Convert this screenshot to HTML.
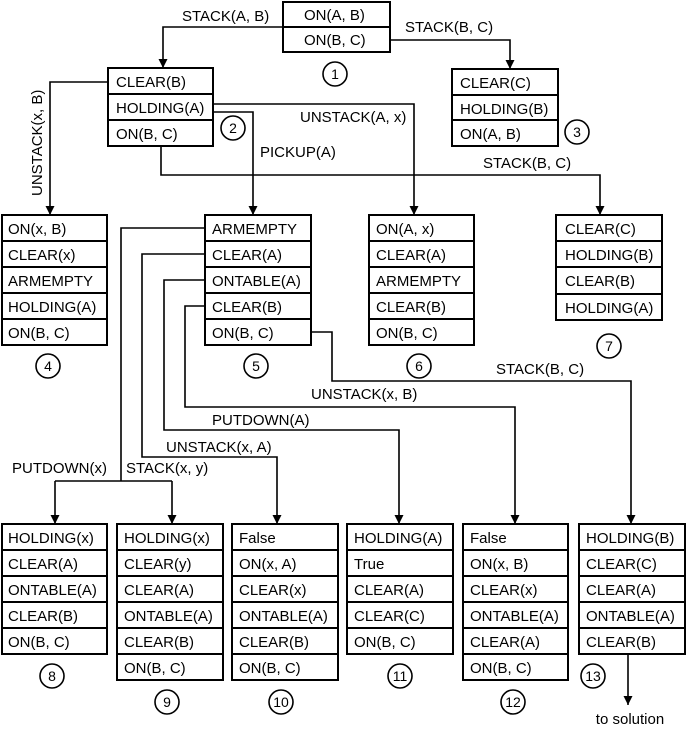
<!DOCTYPE html>
<html><head><style>
body{margin:0;background:#fff}
svg{display:block}
text{font-family:"Liberation Sans",Arial,sans-serif;font-size:15px;fill:#000}
.n{font-size:14px}
</style></head><body>
<svg width="686" height="731" viewBox="0 0 686 731">
<defs>
<marker id="d" viewBox="0 0 10 10" markerWidth="9" markerHeight="10" refX="5" refY="10" orient="0" markerUnits="userSpaceOnUse"><path d="M0,0 L10,0 L5,10 z" fill="#000"/></marker></defs>
<g fill="none" stroke="#000" stroke-width="1.6">
<path d="M283,27 H163 V68" marker-end="url(#d)"/>
<path d="M390,40 H510 V69" marker-end="url(#d)"/>
<path d="M108,82 H50 V215" marker-end="url(#d)"/>
<path d="M213,104 H414 V215" marker-end="url(#d)"/>
<path d="M213,112 H253 V215" marker-end="url(#d)"/>
<path d="M161,146 V175 H600 V215" marker-end="url(#d)"/>
<path d="M205,228 H121 V481"/>
<path d="M55,481 H172"/>
<path d="M55,481 V524" marker-end="url(#d)"/>
<path d="M172,481 V524" marker-end="url(#d)"/>
<path d="M205,254 H142 V457 H277 V524" marker-end="url(#d)"/>
<path d="M205,280 H164 V430 H399 V524" marker-end="url(#d)"/>
<path d="M205,306 H185 V407 H515 V524" marker-end="url(#d)"/>
<path d="M311,332 H332 V381 H631 V524" marker-end="url(#d)"/>
<path d="M628,654 V705" marker-end="url(#d)"/>
</g>
<g fill="#fff" stroke="#000" stroke-width="2">
<rect x="283" y="2" width="107" height="50"/><path d="M283,27H390"/>
<rect x="108" y="68" width="105" height="78"/><path d="M108,94H213M108,120H213"/>
<rect x="452" y="69" width="106" height="77"/><path d="M452,95H558M452,120H558"/>
<rect x="2" y="215" width="105" height="130"/><path d="M2,241H107M2,267H107M2,293H107M2,319H107"/>
<rect x="205" y="215" width="106" height="130"/><path d="M205,241H311M205,267H311M205,293H311M205,319H311"/>
<rect x="369" y="215" width="105" height="130"/><path d="M369,241H474M369,267H474M369,293H474M369,319H474"/>
<rect x="556" y="215" width="106" height="105"/><path d="M556,241H662M556,267H662M556,294H662"/>
<rect x="2" y="524" width="105" height="130"/><path d="M2,550H107M2,576H107M2,602H107M2,628H107"/>
<rect x="117" y="524" width="106" height="156"/><path d="M117,550H223M117,576H223M117,602H223M117,628H223M117,654H223"/>
<rect x="232" y="524" width="106" height="156"/><path d="M232,550H338M232,576H338M232,602H338M232,628H338M232,654H338"/>
<rect x="347" y="524" width="106" height="130"/><path d="M347,550H453M347,576H453M347,602H453M347,628H453"/>
<rect x="463" y="524" width="105" height="156"/><path d="M463,550H568M463,576H568M463,602H568M463,628H568M463,654H568"/>
<rect x="579" y="524" width="106" height="130"/><path d="M579,550H685M579,576H685M579,602H685M579,628H685"/>
</g>
<g fill="#fff" stroke="#000" stroke-width="1.6">
<circle cx="335" cy="74" r="12"/><circle cx="233" cy="128" r="12"/><circle cx="577" cy="132" r="12"/>
<circle cx="48" cy="366" r="12"/><circle cx="256" cy="366" r="12"/><circle cx="419" cy="366" r="12"/><circle cx="609" cy="346" r="12"/>
<circle cx="52" cy="676" r="12"/><circle cx="167" cy="702" r="12"/><circle cx="281" cy="702" r="12"/>
<circle cx="400" cy="676" r="12"/><circle cx="513" cy="702" r="12"/><circle cx="593" cy="676" r="12"/>
</g>
<g text-anchor="middle" class="n">
<text class="n" x="335" y="79">1</text><text class="n" x="233" y="133">2</text><text class="n" x="577" y="137">3</text>
<text class="n" x="48" y="371">4</text><text class="n" x="256" y="371">5</text><text class="n" x="419" y="371">6</text><text class="n" x="609" y="351">7</text>
<text class="n" x="52" y="681">8</text><text class="n" x="167" y="707">9</text><text class="n" x="281" y="707">10</text>
<text class="n" x="400" y="681">11</text><text class="n" x="513" y="707">12</text><text class="n" x="593" y="681">13</text>
<text x="630" y="724">to solution</text>
</g>
<text x="182" y="21">STACK(A, B)</text>
<text x="405" y="32">STACK(B, C)</text>
<text x="300" y="122">UNSTACK(A, x)</text>
<text x="260" y="157">PICKUP(A)</text>
<text x="483" y="168">STACK(B, C)</text>
<text transform="translate(42,196) rotate(-90)">UNSTACK(x, B)</text>
<text x="496" y="374">STACK(B, C)</text>
<text x="311" y="399">UNSTACK(x, B)</text>
<text x="212" y="425">PUTDOWN(A)</text>
<text x="166" y="452">UNSTACK(x, A)</text>
<text x="12" y="473">PUTDOWN(x)</text>
<text x="126" y="473">STACK(x, y)</text>
<g>
<text x="304" y="20">ON(A, B)</text><text x="304" y="45">ON(B, C)</text>
<text x="116" y="87">CLEAR(B)</text><text x="116" y="113">HOLDING(A)</text><text x="116" y="139">ON(B, C)</text>
<text x="460" y="88">CLEAR(C)</text><text x="460" y="114">HOLDING(B)</text><text x="460" y="139">ON(A, B)</text>
<text x="8" y="234">ON(x, B)</text><text x="8" y="260">CLEAR(x)</text><text x="8" y="286">ARMEMPTY</text><text x="8" y="312">HOLDING(A)</text><text x="8" y="338">ON(B, C)</text>
<text x="212" y="234">ARMEMPTY</text><text x="212" y="260">CLEAR(A)</text><text x="212" y="286">ONTABLE(A)</text><text x="212" y="312">CLEAR(B)</text><text x="212" y="338">ON(B, C)</text>
<text x="376" y="234">ON(A, x)</text><text x="376" y="260">CLEAR(A)</text><text x="376" y="286">ARMEMPTY</text><text x="376" y="312">CLEAR(B)</text><text x="376" y="338">ON(B, C)</text>
<text x="565" y="234">CLEAR(C)</text><text x="565" y="260">HOLDING(B)</text><text x="565" y="286">CLEAR(B)</text><text x="565" y="313">HOLDING(A)</text>
<text x="8" y="543">HOLDING(x)</text><text x="8" y="569">CLEAR(A)</text><text x="8" y="595">ONTABLE(A)</text><text x="8" y="621">CLEAR(B)</text><text x="8" y="647">ON(B, C)</text>
<text x="124" y="543">HOLDING(x)</text><text x="124" y="569">CLEAR(y)</text><text x="124" y="595">CLEAR(A)</text><text x="124" y="621">ONTABLE(A)</text><text x="124" y="647">CLEAR(B)</text><text x="124" y="673">ON(B, C)</text>
<text x="239" y="543">False</text><text x="239" y="569">ON(x, A)</text><text x="239" y="595">CLEAR(x)</text><text x="239" y="621">ONTABLE(A)</text><text x="239" y="647">CLEAR(B)</text><text x="239" y="673">ON(B, C)</text>
<text x="354" y="543">HOLDING(A)</text><text x="354" y="569">True</text><text x="354" y="595">CLEAR(A)</text><text x="354" y="621">CLEAR(C)</text><text x="354" y="647">ON(B, C)</text>
<text x="470" y="543">False</text><text x="470" y="569">ON(x, B)</text><text x="470" y="595">CLEAR(x)</text><text x="470" y="621">ONTABLE(A)</text><text x="470" y="647">CLEAR(A)</text><text x="470" y="673">ON(B, C)</text>
<text x="586" y="543">HOLDING(B)</text><text x="586" y="569">CLEAR(C)</text><text x="586" y="595">CLEAR(A)</text><text x="586" y="621">ONTABLE(A)</text><text x="586" y="647">CLEAR(B)</text>
</g>
</svg>
</body></html>
